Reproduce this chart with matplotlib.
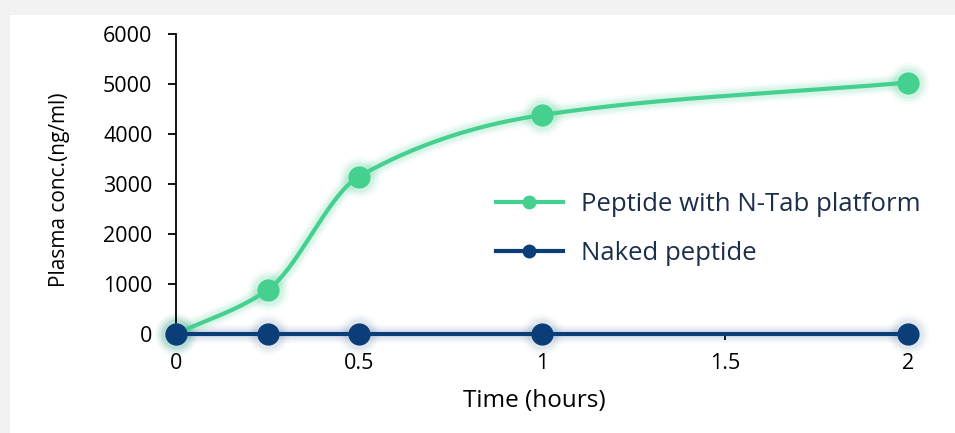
import numpy as np
import matplotlib.pyplot as plt
from matplotlib.patches import Rectangle
from matplotlib.lines import Line2D

# ---- data ----
time_h = [0, 0.25, 0.5, 1, 2]
ntab_conc = [0, 880, 3150, 4380, 5030]
naked_conc = [0, 0, 0, 0, 0]
x_ticks = [0, 0.5, 1, 1.5, 2]
x_ticklabels = ['0', '0.5', '1', '1.5', '2']
y_ticks = [0, 1000, 2000, 3000, 4000, 5000, 6000]
series_names = ['Peptide with N-Tab platform', 'Naked peptide']

GREEN = '#46d08f'
BLUE = '#0b3d78'
TEXT = '#1c2f4a'


def monotone_curve(x, y, n=300):
    # Fritsch-Carlson monotone cubic, only used to draw the smooth line
    x = np.asarray(x, float)
    y = np.asarray(y, float)
    h = np.diff(x)
    d = np.diff(y) / h
    m = np.zeros_like(y)
    m[0], m[-1] = d[0], d[-1]
    for i in range(1, len(x) - 1):
        if d[i - 1] * d[i] <= 0:
            m[i] = 0
        else:
            w1 = 2 * h[i] + h[i - 1]
            w2 = h[i] + 2 * h[i - 1]
            m[i] = (w1 + w2) / (w1 / d[i - 1] + w2 / d[i])
    xs = np.linspace(x[0], x[-1], n)
    idx = np.clip(np.searchsorted(x, xs) - 1, 0, len(x) - 2)
    t = (xs - x[idx]) / h[idx]
    h00 = 2 * t**3 - 3 * t**2 + 1
    h10 = t**3 - 2 * t**2 + t
    h01 = -2 * t**3 + 3 * t**2
    h11 = t**3 - t**2
    ys = h00 * y[idx] + h10 * h[idx] * m[idx] + h01 * y[idx + 1] + h11 * h[idx] * m[idx + 1]
    return xs, ys


plt.rcParams['font.family'] = ['Open Sans', 'DejaVu Sans']

fig = plt.figure(figsize=(9.55, 4.33), dpi=100, facecolor='#f2f2f2')
# white card
card = Rectangle((10 / 955, 0), 1, 1 - 15 / 433, transform=fig.transFigure,
                 facecolor='white', edgecolor='none', zorder=-10)
fig.add_artist(card)

ax = fig.add_axes([176 / 955, 1 - 334 / 433, (908 - 176) / 955, 300 / 433])
ax.set_facecolor('none')
ax.set_zorder(5)

# glow layers
xs, ys = monotone_curve(time_h, ntab_conc)
for lw, a in [(13, 0.05), (10, 0.07), (7, 0.09)]:
    ax.plot(xs, ys, color=GREEN, lw=lw, alpha=a, solid_capstyle='round', clip_on=False)
    ax.plot(time_h, naked_conc, color=BLUE, lw=lw, alpha=a * 0.6, clip_on=False)
for ms, a in [(30, 0.05), (26, 0.08), (22, 0.12)]:
    ax.plot(time_h, ntab_conc, 'o', color=GREEN, ms=ms, alpha=a, mec='none', clip_on=False)
    ax.plot(time_h, naked_conc, 'o', color=BLUE, ms=ms, alpha=a * 0.5, mec='none', clip_on=False)

ax.plot(xs, ys, color=GREEN, lw=3, clip_on=False, zorder=3)
ax.plot(time_h, ntab_conc, 'o', color=GREEN, ms=16, mec='none', clip_on=False, zorder=4)
ax.plot(time_h, naked_conc, color=BLUE, lw=3, clip_on=False, zorder=5)
ax.plot(time_h, naked_conc, 'o', color=BLUE, ms=16, mec='none', clip_on=False, zorder=6)

ax.set_xlim(0, 2)
ax.set_ylim(0, 6000)
ax.set_xticks(x_ticks)
ax.set_xticklabels(x_ticklabels)
ax.set_yticks(y_ticks)

for s in ['top', 'right', 'bottom']:
    ax.spines[s].set_visible(False)
ax.spines['left'].set_linewidth(1.3)
ax.spines['left'].set_color('black')
ax.tick_params(axis='y', length=6, width=1.3, labelsize=15.5, pad=11, colors='black')
ax.tick_params(axis='x', length=4, width=1.3, labelsize=15.5, pad=10, colors='black')

ax.set_xlabel('Time (hours)', fontsize=17.5)
ax.xaxis.set_label_coords(0.489, -0.183)
ax.xaxis.label.set_va('top')
ax.set_ylabel('Plasma conc.(ng/ml)', fontsize=15)
ax.yaxis.set_label_coords(-0.145, 0.48)

handles = [
    Line2D([], [], color=GREEN, lw=3, marker='o', ms=10, mec='none'),
    Line2D([], [], color=BLUE, lw=3, marker='o', ms=10, mec='none'),
]
leg = ax.legend(handles, series_names,
                loc='upper left', bbox_to_anchor=((496 - 176) / 732, (334 - 192) / 300),
                frameon=False, fontsize=18.5, handlelength=2.6, handletextpad=0.7,
                labelspacing=0.95, borderaxespad=0, borderpad=0)
for t in leg.get_texts():
    t.set_color(TEXT)

fig.savefig('out.png', dpi=100, facecolor=fig.get_facecolor())
